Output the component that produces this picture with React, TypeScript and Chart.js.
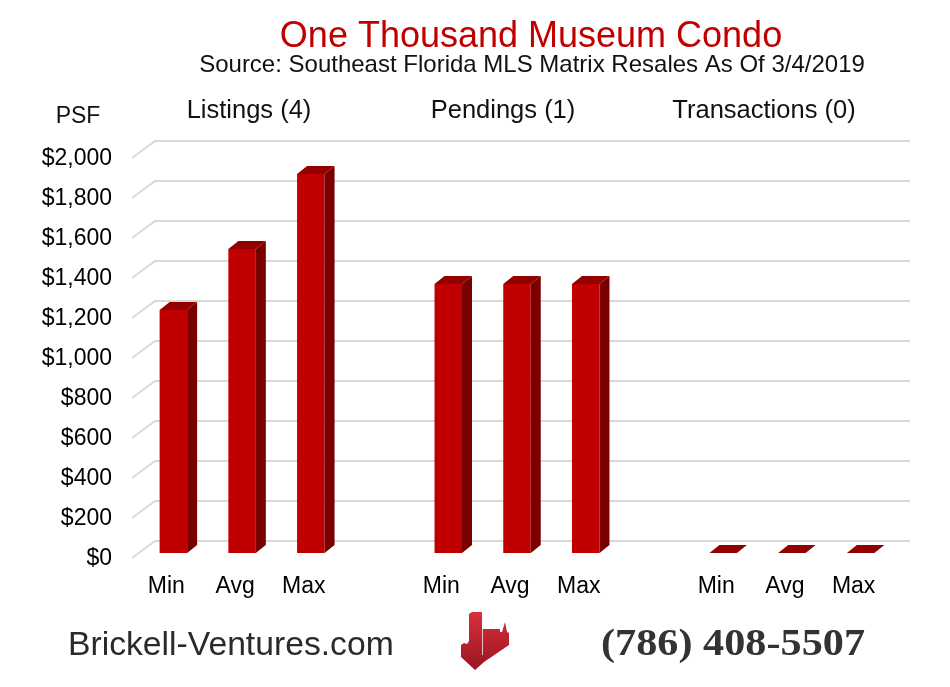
import React, { useEffect, useRef } from 'react';
import { Chart, registerables } from 'chart.js';

Chart.register(...registerables);

// ---- Data ----
const categories = ['Min', 'Avg', 'Max', '', 'Min', 'Avg', 'Max', '', 'Min', 'Avg', 'Max'];
const listingsPsf = [1215, 1520, 1895];
const pendingsPsf = [1345, 1345, 1345];
const transactionsPsf = [0, 0, 0];
const groupHeaders = ['Listings (4)', 'Pendings (1)', 'Transactions (0)'];
const yMin = 0;
const yMax = 2000;
const yStep = 200;
const titleText = 'One Thousand Museum Condo';
const subtitleText = 'Source: Southeast Florida MLS Matrix Resales As Of 3/4/2019';
const axisTitleText = 'PSF';
const footerLeftText = 'Brickell-Ventures.com';
const footerRightText = '(786) 408-5507';

const psfValues: (number | null)[] = [...listingsPsf, null, ...pendingsPsf, null, ...transactionsPsf];

const SANS = '"Liberation Sans", Arial, Helvetica, sans-serif';
const SERIF = '"Liberation Serif", "Times New Roman", serif';

const BAR_DX = 10;
const BAR_DY = 8;

const threeDPlugin = {
  id: 'threeD',
  beforeDatasetsDraw(chart: any) {
    const { ctx, chartArea, scales } = chart;
    const y = scales.y;
    ctx.save();
    ctx.strokeStyle = '#d9d9d9';
    ctx.lineWidth = 2;
    for (const t of y.ticks) {
      const py = y.getPixelForValue(t.value);
      const by = py - 12;
      ctx.beginPath();
      ctx.moveTo(chartArea.left - 7, py + 5);
      ctx.lineTo(chartArea.left + 16, by);
      ctx.lineTo(chartArea.right + 15, by);
      ctx.stroke();
    }
    ctx.restore();
  },
  afterDatasetsDraw(chart: any) {
    const { ctx } = chart;
    const meta = chart.getDatasetMeta(0);
    const data = chart.data.datasets[0].data;
    ctx.save();
    meta.data.forEach((el: any, i: number) => {
      if (data[i] == null) return;
      const { x, y, base, width } = el.getProps(['x', 'y', 'base', 'width'], true);
      const l = x - width / 2;
      const r = x + width / 2;
      // side face
      ctx.fillStyle = '#7a0000';
      ctx.beginPath();
      ctx.moveTo(r, y);
      ctx.lineTo(r + BAR_DX, y - BAR_DY);
      ctx.lineTo(r + BAR_DX, base - BAR_DY);
      ctx.lineTo(r, base);
      ctx.closePath();
      ctx.fill();
      // top face
      ctx.fillStyle = '#930000';
      ctx.beginPath();
      ctx.moveTo(l, y);
      ctx.lineTo(l + BAR_DX, y - BAR_DY);
      ctx.lineTo(r + BAR_DX, y - BAR_DY);
      ctx.lineTo(r, y);
      ctx.closePath();
      ctx.fill();
    });
    ctx.restore();
  },
  afterDraw(chart: any) {
    const { ctx } = chart;
    ctx.save();
    ctx.textBaseline = 'alphabetic';

    // Title
    ctx.textAlign = 'center';
    ctx.fillStyle = '#c00000';
    ctx.font = `36px ${SANS}`;
    ctx.fillText(titleText, 531, 47);

    // Subtitle
    ctx.fillStyle = '#111';
    ctx.font = `24px ${SANS}`;
    ctx.fillText(subtitleText, 532, 72);

    // Group headers
    const headerX = [249, 503, 764];
    ctx.font = `25.5px ${SANS}`;
    groupHeaders.forEach((h, i) => ctx.fillText(h, headerX[i], 118));

    // Axis title
    ctx.font = `23px ${SANS}`;
    ctx.fillText(axisTitleText, 78, 123);

    // Footer left
    ctx.textAlign = 'left';
    ctx.fillStyle = '#2a2a2a';
    ctx.font = `33.7px ${SANS}`;
    ctx.fillText(footerLeftText, 68, 655);

    // Footer right (phone), slightly widened
    ctx.save();
    ctx.fillStyle = '#333';
    ctx.font = `bold 38px ${SERIF}`;
    const w = ctx.measureText(footerRightText).width;
    const sx = 264 / w;
    ctx.translate(601, 655);
    ctx.scale(sx, 1);
    ctx.fillText(footerRightText, 0, 0);
    ctx.restore();

    // Logo
    const g = ctx.createLinearGradient(0, 612, 0, 670);
    g.addColorStop(0, '#d8303c');
    g.addColorStop(1, '#9a1520');
    ctx.fillStyle = g;
    ctx.beginPath();
    ctx.moveTo(469, 614);
    ctx.lineTo(472, 612);
    ctx.lineTo(482, 612);
    ctx.lineTo(482, 629);
    ctx.lineTo(500, 629);
    ctx.lineTo(500, 632);
    ctx.lineTo(502, 632);
    ctx.lineTo(505, 622);
    ctx.lineTo(507, 632);
    ctx.lineTo(509, 633);
    ctx.lineTo(509, 645);
    ctx.lineTo(484, 662);
    ctx.lineTo(475, 670);
    ctx.lineTo(461, 657);
    ctx.lineTo(461, 645);
    ctx.lineTo(464, 643);
    ctx.lineTo(467, 644);
    ctx.lineTo(469, 641);
    ctx.closePath();
    ctx.fill();
    ctx.strokeStyle = 'rgba(255,255,255,0.7)';
    ctx.lineWidth = 1;
    ctx.beginPath();
    ctx.moveTo(482.5, 629);
    ctx.lineTo(482.5, 655);
    ctx.stroke();

    ctx.restore();
  },
};

export default function App() {
  const canvasRef = useRef<HTMLCanvasElement | null>(null);

  useEffect(() => {
    const canvas = canvasRef.current;
    if (!canvas) return;
    const chart = new Chart(canvas, {
      type: 'bar',
      data: {
        labels: categories,
        datasets: [
          {
            data: psfValues as any,
            backgroundColor: '#c00000',
            borderWidth: 0,
            barPercentage: 0.4,
            categoryPercentage: 1,
          },
        ],
      },
      options: {
        responsive: false,
        animation: false,
        devicePixelRatio: 1,
        layout: { padding: { left: 0, right: 55, top: 153, bottom: 84 } },
        plugins: {
          legend: { display: false },
          tooltip: { enabled: false },
          title: { display: false },
        },
        scales: {
          x: {
            grid: { display: false, drawTicks: false },
            border: { display: false },
            ticks: {
              font: { family: SANS, size: 23 },
              color: '#000',
              labelOffset: -7,
              padding: 20,
              autoSkip: false,
              maxRotation: 0,
            },
            afterFit: (s: any) => {
              s.height = 50;
            },
          },
          y: {
            min: yMin,
            max: yMax,
            grid: { display: false, drawTicks: false },
            border: { display: false },
            ticks: {
              stepSize: yStep,
              font: { family: SANS, size: 23 },
              color: '#000',
              padding: 27,
              labelOffset: 6,
              callback: (v: any) => '$' + Number(v).toLocaleString('en-US'),
            },
            afterFit: (s: any) => {
              s.width = 139;
            },
          },
        },
      },
      plugins: [threeDPlugin],
    });
    return () => chart.destroy();
  }, []);

  return (
    <div style={{ position: 'absolute', left: 0, top: 0, width: 950, height: 687, background: '#fff' }}>
      <canvas ref={canvasRef} width={950} height={687} style={{ display: 'block' }} />
    </div>
  );
}
